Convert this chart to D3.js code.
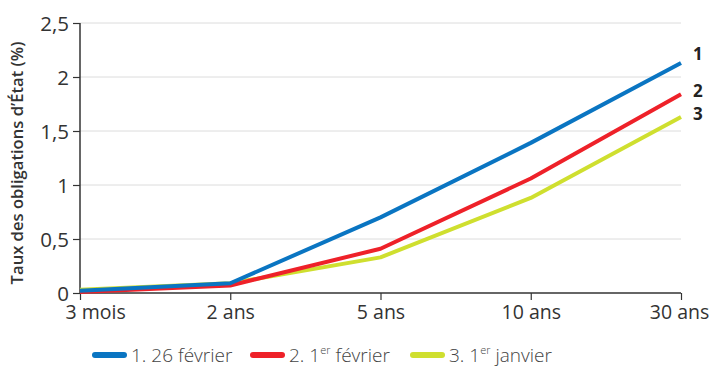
<!DOCTYPE html>
<html>
<head>
<meta charset="utf-8">
<script src="https://cdn.jsdelivr.net/npm/d3@7"></script>
<style>
  body { margin: 0; background: #fff; }
  svg { display: block; font-family: "Open Sans", sans-serif; }
</style>
</head>
<body>
<svg id="chart" width="710" height="367"></svg>
<script>
// Maturities along the yield curve
const maturities = ["3 mois", "2 ans", "5 ans", "10 ans", "30 ans"];

// Government bond yields (%) on three dates
const yields26Feb = [0.02, 0.09, 0.70, 1.39, 2.13];
const yields1Feb  = [0.01, 0.07, 0.41, 1.06, 1.84];
const yields1Jan  = [0.03, 0.09, 0.33, 0.88, 1.63];

const yTicks = [0, 0.5, 1, 1.5, 2, 2.5];
const yTickLabels = ["0", "0,5", "1", "1,5", "2", "2,5"];

const series = [
  { id: "1", values: yields26Feb, color: "#0a75c2", legend: ["1. 26 février", ""] },
  { id: "2", values: yields1Feb,  color: "#ee2129", legend: ["2. 1", "er", " février"] },
  { id: "3", values: yields1Jan,  color: "#cfdf2f", legend: ["3. 1", "er", " janvier"] }
];

const FONT = '"Open Sans", sans-serif';
const svg = d3.select("#chart");
const m = { left: 80, right: 29, top: 23, bottom: 74 };
const W = 710, H = 367;

const x = d3.scalePoint().domain(maturities).range([m.left, W - m.right]);
const y = d3.scaleLinear().domain([0, 2.5]).range([H - m.bottom, m.top]);

// Horizontal gridlines
svg.append("g")
  .selectAll("line")
  .data(yTicks.filter(d => d > 0))
  .join("line")
  .attr("x1", m.left).attr("x2", W - m.right)
  .attr("y1", d => y(d)).attr("y2", d => y(d))
  .attr("stroke", "#dcdcdc").attr("stroke-width", 1);

// Y axis
const yAxis = svg.append("g")
  .attr("transform", `translate(${m.left},0)`)
  .call(d3.axisLeft(y).tickValues(yTicks).tickFormat((d, i) => yTickLabels[i]).tickSize(7).tickPadding(4));
yAxis.attr("font-family", FONT);
yAxis.select(".domain").attr("stroke", "#333").attr("stroke-width", 1.5).attr("d", `M0,${y(2.5)}V${y(0)}`);
yAxis.selectAll(".tick line").attr("stroke", "#333").attr("stroke-width", 1.2);
yAxis.selectAll(".tick text")
  .attr("font-size", 20.5).attr("fill", "#333")
  .style("font-stretch", "88%").attr("dy", "0.36em");

// X axis
const xAxis = svg.append("g")
  .attr("transform", `translate(0,${y(0)})`)
  .call(d3.axisBottom(x).tickSize(7).tickPadding(5));
xAxis.attr("font-family", FONT);
xAxis.select(".domain").attr("stroke", "#333").attr("stroke-width", 1.5).attr("d", `M${m.left},0H${W - m.right}`);
xAxis.selectAll(".tick line").attr("stroke", "#333").attr("stroke-width", 1.2);
xAxis.selectAll(".tick text")
  .attr("font-size", 19.5).attr("fill", "#333")
  .style("font-stretch", "88%");
// First label sits to the right of its tick, clear of the "0" label
xAxis.selectAll(".tick text").filter(d => d === maturities[0])
  .attr("text-anchor", "start").attr("x", -15);
// Last label pulled in slightly from the right edge
xAxis.selectAll(".tick text").filter(d => d === maturities[maturities.length - 1])
  .attr("x", -2);

// Y axis title
svg.append("text")
  .attr("transform", `translate(23,${(y(0) + y(2.5)) / 2 + 5}) rotate(-90)`)
  .attr("text-anchor", "middle")
  .attr("font-size", 16.6).attr("font-weight", 600).attr("fill", "#333")
  .text("Taux des obligations d’État (%)");

// Curves
const line = d3.line().x((d, i) => x(maturities[i])).y(d => y(d));
const drawOrder = [series[2], series[1], series[0]];
svg.append("g")
  .selectAll("path")
  .data(drawOrder)
  .join("path")
  .attr("d", d => line(d.values))
  .attr("fill", "none")
  .attr("stroke", d => d.color)
  .attr("stroke-width", 4)
  .attr("stroke-linejoin", "round");

// End labels
const endOffsets = { "1": -3, "2": 3, "3": 3 };
svg.append("g")
  .selectAll("text")
  .data(series)
  .join("text")
  .attr("x", x(maturities[maturities.length - 1]) + 12)
  .attr("y", d => y(d.values[d.values.length - 1]) + endOffsets[d.id])
  .attr("font-size", 17).attr("font-weight", "bold").attr("fill", "#222")
  .text(d => d.id);

// Legend
const legendX = [95, 253, 413];
const legendY = 355;
const lg = svg.append("g");
series.forEach((s, i) => {
  lg.append("line")
    .attr("x1", legendX[i]).attr("x2", legendX[i] + 29)
    .attr("y1", legendY).attr("y2", legendY)
    .attr("stroke", s.color).attr("stroke-width", 6).attr("stroke-linecap", "round");
  const t = lg.append("text")
    .attr("x", legendX[i] + 36).attr("y", legendY + 7)
    .attr("font-size", 19).attr("font-weight", 300).attr("fill", "#444");
  if (s.legend[1]) {
    t.append("tspan").text(s.legend[0]);
    t.append("tspan").attr("font-size", 11).attr("dy", -8).text(s.legend[1]);
    t.append("tspan").attr("dy", 8).text(s.legend[2]);
  } else {
    t.text(s.legend[0]);
  }
});
</script>
</body>
</html>
